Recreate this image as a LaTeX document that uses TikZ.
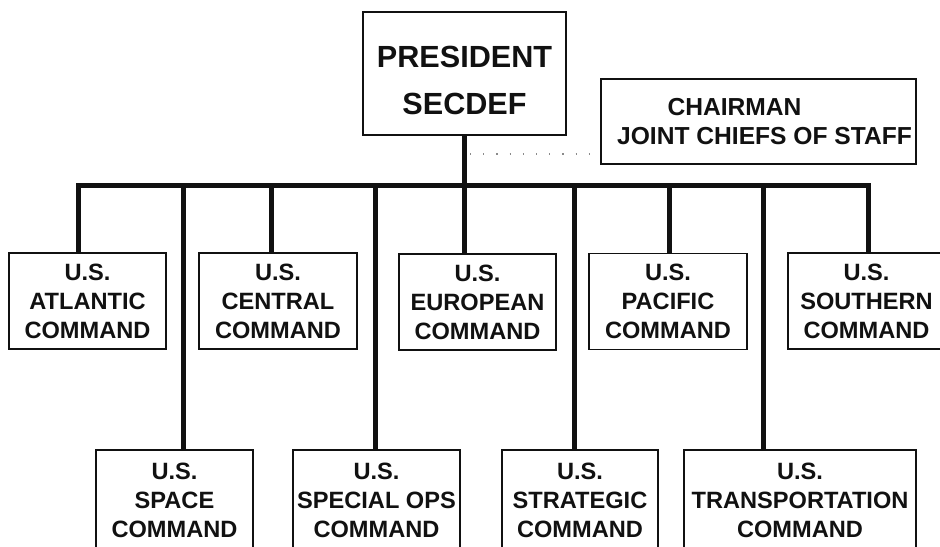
\documentclass[tikz,border=0pt]{standalone}
\usepackage{fontspec}
\setmainfont{Liberation Sans}
\usepackage{xcolor}
\usetikzlibrary{calc}
\definecolor{ink}{HTML}{111111}
\definecolor{faint}{HTML}{8A8A8A}
\tikzset{
  box/.style={draw=ink, line width=0.7pt, align=center, inner sep=2pt, text=ink},
  top/.style={box, minimum height=123*0.5pt, font=\fontsize{15.3}{23.5}\selectfont\bfseries},
  staff/.style={box, minimum height=85*0.5pt, font=\fontsize{12.3}{14.5}\selectfont\bfseries},
  cmd/.style={box, font=\fontsize{11.8}{14.5}\selectfont\bfseries},
  upper/.style={cmd, minimum height=96*0.5pt},
  lower/.style={cmd, minimum height=100*0.5pt},
  link/.style={draw=ink, line width=2.5pt, line join=miter},
  help/.style={draw=faint, line width=0.6pt, dash pattern=on 0.6pt off 6pt},
}
\begin{document}
\begin{tikzpicture}[x=0.5pt, y=-0.5pt]
  \useasboundingbox[fill=white] (0,0) rectangle (940,546);

  \node[top, minimum width=203*0.5pt] (pres) at (464.5,73.5) {\rule{0pt}{18pt}PRESIDENT\\SECDEF};
  \node[staff, minimum width=313*0.5pt] (chair) at (758.5,121.5) {CHAIRMAN\hspace*{24pt}\\\hspace*{6pt}JOINT CHIEFS OF STAFF};

  \node[upper, minimum width=157*0.5pt] (atl) at (87.5,301) {U.S.\\ATLANTIC\\COMMAND};
  \node[upper, minimum width=158*0.5pt] (cen) at (278,301) {U.S.\\CENTRAL\\COMMAND};
  \node[upper, minimum width=157*0.5pt] (eur) at (477.5,302) {U.S.\\EUROPEAN\\COMMAND};
  \node[upper, minimum width=158*0.5pt] (pac) at (668,301.5) {U.S.\\PACIFIC\\COMMAND};
  \node[upper, minimum width=157*0.5pt] (sou) at (866.5,301) {U.S.\\SOUTHERN\\COMMAND};

  \node[lower, minimum width=157*0.5pt] (spa) at (174.5,500) {U.S.\\SPACE\\COMMAND};
  \node[lower, minimum width=165*0.5pt] (sop) at (376.5,500) {U.S.\\SPECIAL OPS\\COMMAND};
  \node[lower, minimum width=156*0.5pt] (str) at (580,500) {U.S.\\STRATEGIC\\COMMAND};
  \node[lower, minimum width=232*0.5pt] (tra) at (800,500) {U.S.\\TRANSPORTATION\\COMMAND};

  \coordinate (b1) at (78,185);
  \coordinate (b2) at (183,185);
  \coordinate (b3) at (271,185);
  \coordinate (b4) at (375,185);
  \coordinate (b5) at (pres.south |- b1);
  \coordinate (b6) at (574,185);
  \coordinate (b7) at (669,185);
  \coordinate (b8) at (763,185);
  \coordinate (b9) at (868,185);
  \coordinate (dt) at (470,154);

  \draw[link] (b1 |- atl.north) -- (b1) -- (b9) -- (b9 |- sou.north);
  \draw[link] (pres.south) -- (b5) -- (b5 |- eur.north);
  \draw[link] (b3) -- (b3 |- cen.north);
  \draw[link] (b7) -- (b7 |- pac.north);
  \draw[link] (b2) -- (b2 |- spa.north);
  \draw[link] (b4) -- (b4 |- sop.north);
  \draw[link] (b6) -- (b6 |- str.north);
  \draw[link] (b8) -- (b8 |- tra.north);

  \draw[help] (dt) -- (dt -| chair.west);
\end{tikzpicture}
\end{document}
